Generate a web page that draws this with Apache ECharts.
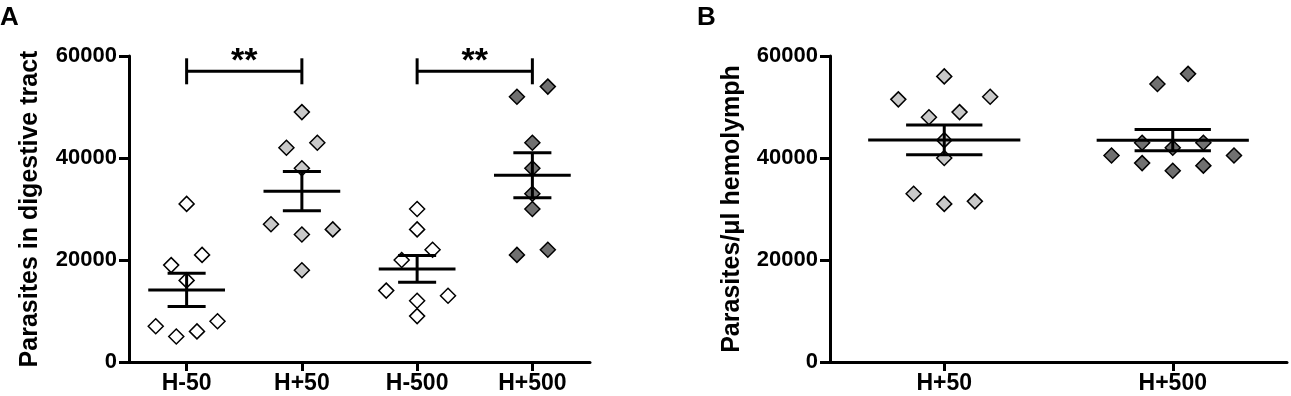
<!DOCTYPE html>
<html>
<head>
<meta charset="utf-8">
<script src="https://cdn.jsdelivr.net/npm/echarts@6/dist/echarts.min.js"></script>
<style>
  html, body { margin: 0; padding: 0; background: #fff; }
  #chart { width: 1291px; height: 396px; }
</style>
</head>
<body>
<div id="chart"></div>
<script>
// panel A: parasites in digestive tract
const categoriesA = ["H-50", "H+50", "H-500", "H+500"];
const hMinus50 = [31000, 19000, 21000, 16000, 7000, 5000, 6000, 8000];
const hPlus50 = [49000, 42000, 43000, 38000, 27000, 25000, 26000, 18000];
const hMinus500 = [30000, 26000, 22000, 20000, 14000, 13000, 12000, 9000];
const hPlus500 = [54000, 52000, 43000, 38000, 33000, 30000, 21000, 22000];
// horizontal jitter of each point, in marker widths
const hMinus50Jitter = [0, -1, 1, 0, -2, -0.67, 0.67, 2];
const hPlus50Jitter = [0, -1, 1, 0, -2, 0, 2, 0];
const hMinus500Jitter = [0, 0, 1, -1, -2, 2, 0, 0];
const hPlus500Jitter = [1, -1, 0, 0, 0, 0, -1, 1];
const sigPairs = [[0, 1], [2, 3]];
const sigLabel = "**";
const sigY = 57000;

// panel B: parasites per ul hemolymph
const categoriesB = ["H+50", "H+500"];
const hemoPlus50 = [56000, 51500, 48000, 49000, 43500, 40000, 33000, 31000, 31500, 52000];
const hemoPlus500 = [56500, 54500, 43000, 42000, 43000, 40500, 40500, 39000, 38500, 37500];
const hemoPlus50Jitter = [0, -3, -1, 1, 0, 0, -2, 0, 2, 3];
const hemoPlus500Jitter = [1, -1, -2, 0, 2, -4, 4, -2, 2, 0];

const yTicks = [0, 20000, 40000, 60000];

const WHITE = "#ffffff", LIGHT = "#c9c9c9", DARK = "#707070";
const FONT = "Liberation Sans, Arial, sans-serif";

function meanSem(arr) {
    const n = arr.length;
    const m = arr.reduce((a, b) => a + b, 0) / n;
    const v = arr.reduce((a, b) => a + (b - m) * (b - m), 0) / (n - 1);
    return [m, Math.sqrt(v / n)];
}

function yAxisFor(grid, name, gap) {
    return {
        type: "value",
        gridIndex: grid,
        min: yTicks[0],
        max: yTicks[yTicks.length - 1],
        interval: yTicks[1] - yTicks[0],
        splitLine: { show: false },
        axisLine: { show: true, onZero: false, lineStyle: { color: "#000", width: 3 } },
        axisTick: { show: true, length: 10, lineStyle: { color: "#000", width: 3 } },
        axisLabel: {
            fontSize: 22, fontWeight: "bold", color: "#000", fontFamily: FONT, margin: 12,
            formatter: v => String(v)
        },
        name: name,
        nameLocation: "middle",
        nameRotate: 90,
        nameGap: gap,
        nameTextStyle: { fontSize: 25, fontWeight: "bold", color: "#000", fontFamily: FONT }
    };
}

function catAxisFor(grid, cats) {
    return {
        type: "category",
        gridIndex: grid,
        data: cats,
        boundaryGap: true,
        axisLine: { show: true, onZero: false, lineStyle: { color: "#000", width: 3 } },
        axisTick: { show: true, alignWithLabel: true, length: 9, lineStyle: { color: "#000", width: 3 } },
        axisLabel: { fontSize: 23, fontWeight: "bold", color: "#000", fontFamily: FONT, margin: 10 },
        splitLine: { show: false }
    };
}

function valAxisFor(grid, n) {
    return { type: "value", gridIndex: grid, min: -0.5, max: n - 0.5, show: false };
}

function scatterFor(xAxisIndex, yAxisIndex, idx, values, jitter, step, color) {
    return {
        type: "scatter",
        xAxisIndex: xAxisIndex,
        yAxisIndex: yAxisIndex,
        symbol: "diamond",
        symbolSize: 15,
        itemStyle: { color: color, borderColor: "#000", borderWidth: 1.5, opacity: 1 },
        data: values.map((v, i) => [idx + jitter[i] * step, v]),
        z: 2
    };
}

function meanSeries(xAxisIndex, yAxisIndex, groups, halfWidth, capWidth) {
    return {
        type: "custom",
        xAxisIndex: xAxisIndex,
        yAxisIndex: yAxisIndex,
        z: 3,
        data: groups.map((g, i) => [i].concat(meanSem(g))),
        renderItem: function (params, api) {
            const x = api.value(0), m = api.value(1), s = api.value(2);
            const st = { stroke: "#000", lineWidth: 3, fill: null };
            const seg = (a, b) => {
                const p = api.coord(a), q = api.coord(b);
                return { type: "line", shape: { x1: p[0], y1: p[1], x2: q[0], y2: q[1] }, style: st };
            };
            return {
                type: "group",
                children: [
                    seg([x - halfWidth, m], [x + halfWidth, m]),
                    seg([x, m - s], [x, m + s]),
                    seg([x - capWidth, m + s], [x + capWidth, m + s]),
                    seg([x - capWidth, m - s], [x + capWidth, m - s])
                ]
            };
        }
    };
}

const bracketSeries = {
    type: "custom",
    xAxisIndex: 1,
    yAxisIndex: 0,
    z: 3,
    data: sigPairs.map(p => [p[0], p[1], sigY]),
    renderItem: function (params, api) {
        const a = api.coord([api.value(0), api.value(2)]);
        const b = api.coord([api.value(1), api.value(2)]);
        const st = { stroke: "#000", lineWidth: 3, fill: null };
        return {
            type: "group",
            children: [
                { type: "line", shape: { x1: a[0], y1: a[1], x2: b[0], y2: b[1] }, style: st },
                { type: "line", shape: { x1: a[0], y1: a[1] - 13, x2: a[0], y2: a[1] + 13 }, style: st },
                { type: "line", shape: { x1: b[0], y1: b[1] - 13, x2: b[0], y2: b[1] + 13 }, style: st },
                {
                    type: "text",
                    style: {
                        text: sigLabel, x: (a[0] + b[0]) / 2, y: a[1] - 10,
                        align: "center", verticalAlign: "middle",
                        font: "bold 34px " + FONT, fill: "#000"
                    }
                }
            ]
        };
    }
};

const chart = echarts.init(document.getElementById("chart"), null, { renderer: "canvas" });

const stepA = 0.134, stepB = 0.067;

chart.setOption({
    animation: false,
    backgroundColor: "#fff",
    graphic: [
        { type: "text", left: 0, top: 5, style: { text: "A", font: "bold 26px " + FONT, fill: "#000" } },
        { type: "text", left: 697, top: 5, style: { text: "B", font: "bold 26px " + FONT, fill: "#000" } }
    ],
    grid: [
        { left: 129, top: 56, width: 461, height: 306, outerBoundsMode: "none" },
        { left: 830, top: 56, width: 457, height: 306, outerBoundsMode: "none" }
    ],
    xAxis: [
        catAxisFor(0, categoriesA),
        valAxisFor(0, categoriesA.length),
        catAxisFor(1, categoriesB),
        valAxisFor(1, categoriesB.length)
    ],
    yAxis: [
        yAxisFor(0, "Parasites in digestive tract", 86),
        yAxisFor(1, "Parasites/\u03bcl hemolymph", 85)
    ],
    series: [
        scatterFor(1, 0, 0, hMinus50, hMinus50Jitter, stepA, WHITE),
        scatterFor(1, 0, 1, hPlus50, hPlus50Jitter, stepA, LIGHT),
        scatterFor(1, 0, 2, hMinus500, hMinus500Jitter, stepA, WHITE),
        scatterFor(1, 0, 3, hPlus500, hPlus500Jitter, stepA, DARK),
        meanSeries(1, 0, [hMinus50, hPlus50, hMinus500, hPlus500], 0.333, 0.165),
        bracketSeries,
        scatterFor(3, 1, 0, hemoPlus50, hemoPlus50Jitter, stepB, LIGHT),
        scatterFor(3, 1, 1, hemoPlus500, hemoPlus500Jitter, stepB, DARK),
        meanSeries(3, 1, [hemoPlus50, hemoPlus500], 0.333, 0.167)
    ]
});
</script>
</body>
</html>
